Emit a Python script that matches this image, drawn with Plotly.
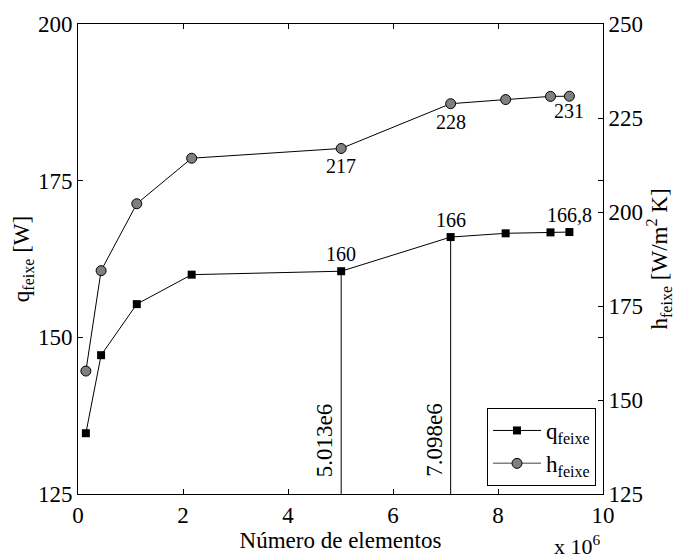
import plotly.graph_objects as go

# Data (number of elements in millions)
n_elem = [0.15, 0.44, 1.12, 2.165, 5.013, 7.098, 8.146, 9.0, 9.36]
q_feixe = [134.7, 147.15, 155.3, 160.0, 160.55, 166.0, 166.6, 166.75, 166.8]
h_feixe = [157.7, 184.4, 202.2, 214.3, 216.9, 228.8, 229.9, 230.75, 230.8]

# Value labels
q_label_idx = [4, 5, 8]
q_label_txt = ["160", "166", "166,8"]
h_label_idx = [4, 5, 8]
h_label_txt = ["217", "228", "231"]
h_label_shift = [-18, -18, -15]

# Vertical markers
vline_idx = [4, 5]
vline_txt = ["5.013e6", "7.098e6"]

FONT = "Times New Roman, Liberation Serif, DejaVu Serif, serif"

fig = go.Figure()

fig.add_trace(go.Scatter(
    x=n_elem, y=q_feixe, mode="lines+markers", name="q<sub>feixe</sub>",
    line=dict(color="black", width=1),
    marker=dict(symbol="square", size=8, color="black", line=dict(color="black", width=0)),
    yaxis="y", showlegend=True))

fig.add_trace(go.Scatter(
    x=n_elem, y=h_feixe, mode="lines+markers", name="h<sub>feixe</sub>",
    line=dict(color="black", width=1),
    marker=dict(symbol="circle", size=10, color="#808080", line=dict(color="black", width=1)),
    yaxis="y2", showlegend=False))

# legend-only entry (grey line like the original legend)
fig.add_trace(go.Scatter(
    x=[None], y=[None], mode="lines+markers", name="h<sub>feixe</sub>",
    line=dict(color="#808080", width=1.5),
    marker=dict(symbol="circle", size=10, color="#808080", line=dict(color="black", width=1)),
    yaxis="y2", showlegend=True))

shapes = []
annotations = []
for i, t in zip(vline_idx, vline_txt):
    shapes.append(dict(type="line", xref="x", yref="y", x0=n_elem[i], x1=n_elem[i],
                       y0=125, y1=q_feixe[i], line=dict(color="black", width=1)))
    annotations.append(dict(x=n_elem[i], y=125, xref="x", yref="y", text=t, textangle=-90,
                            showarrow=False, xanchor="right", yanchor="bottom",
                            xshift=-2, yshift=15, font=dict(family=FONT, size=23, color="black")))

for i, t in zip(q_label_idx, q_label_txt):
    annotations.append(dict(x=n_elem[i], y=q_feixe[i], xref="x", yref="y", text=t,
                            showarrow=False, xanchor="center", yanchor="middle", yshift=17,
                            font=dict(family=FONT, size=20, color="black")))

for i, t, s in zip(h_label_idx, h_label_txt, h_label_shift):
    annotations.append(dict(x=n_elem[i], y=h_feixe[i], xref="x", yref="y2", text=t,
                            showarrow=False, xanchor="center", yanchor="middle", yshift=s,
                            font=dict(family=FONT, size=20, color="black")))

annotations.append(dict(x=0.952, y=-0.108, xref="paper", yref="paper",
                        text="x 10<sup>6</sup>", showarrow=False,
                        xanchor="center", yanchor="middle",
                        font=dict(family=FONT, size=22, color="black")))

axis_common = dict(showgrid=False, zeroline=False, showline=True, linecolor="black",
                   linewidth=1, ticks="inside", ticklen=5, tickcolor="black",
                   tickfont=dict(family=FONT, size=23, color="black"))

fig.update_layout(
    width=687, height=559,
    margin=dict(l=78, r=84, t=20, b=65),
    paper_bgcolor="white", plot_bgcolor="white",
    font=dict(family=FONT, color="black"),
    xaxis=dict(range=[0, 10], dtick=2, mirror="ticks",
               title=dict(text="Número de elementos", font=dict(family=FONT, size=23), standoff=0),
               **axis_common),
    yaxis=dict(range=[125, 200], dtick=25, mirror="ticks",
               title=dict(text="q<sub>feixe</sub> [W]", font=dict(family=FONT, size=23), standoff=1),
               **axis_common),
    yaxis2=dict(range=[125, 250], dtick=25, overlaying="y", side="right",
                title=dict(text="h<sub>feixe</sub> [W/m<sup>2</sup> K]", font=dict(family=FONT, size=23), standoff=6),
                **axis_common),
    legend=dict(x=0.9867, y=0.017, xanchor="right", yanchor="bottom",
                bgcolor="white", bordercolor="black", borderwidth=1,
                font=dict(family=FONT, size=23, color="black"),
                tracegroupgap=0, itemwidth=48),
    shapes=shapes,
    annotations=annotations,
)

fig.write_html("out.html")
